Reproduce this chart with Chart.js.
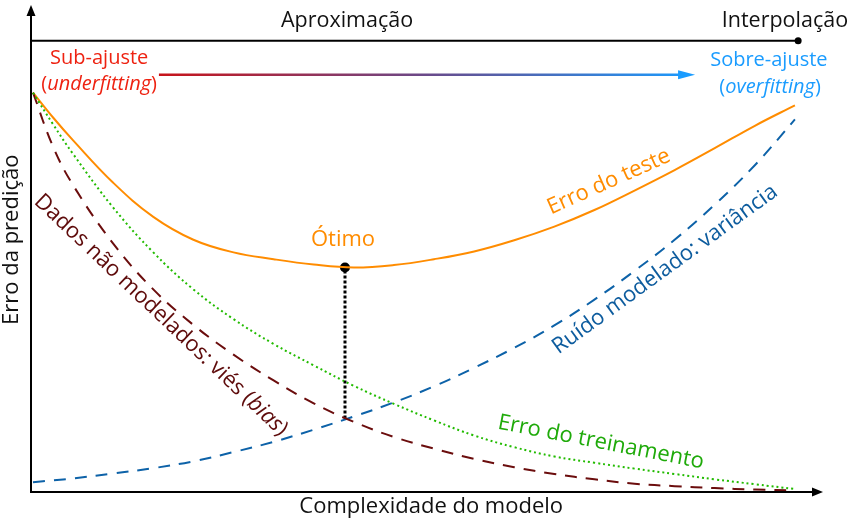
<!DOCTYPE html>
<html><head><meta charset="utf-8">
<script src="https://cdn.jsdelivr.net/npm/chart.js@4"></script>
<style>html,body{margin:0;padding:0;background:#fff}#wrap{width:850px;height:520px}</style>
</head><body><div id="wrap"><canvas id="c"></canvas></div>
<script>
// Model complexity (x) and prediction error (y), arbitrary units
const complexity    = [0,0.5,1,2,3,4,5,6,7,8,9,10,11,12,13,14,15,16,17,18,19];
const testError     = [82.0,76.9,72.2,63.5,56.5,51.8,49.2,47.8,46.7,46.1,46.6,47.8,49.4,51.7,54.5,57.9,61.9,66.1,70.6,75.2,79.4];
const trainingError = [82.0,75.5,69.4,58.4,49.2,41.6,35.5,30.4,26.0,21.8,18.1,14.7,11.6,9.2,7.3,6.0,4.8,3.7,2.6,1.6,0.6];
const biasError     = [82.0,70.9,63.0,51.0,41.6,34.3,28.2,22.9,18.2,14.4,11.3,8.9,6.8,5.1,3.7,2.6,1.7,1.2,0.8,0.5,0.3];
const varianceError = [2.0,2.4,2.8,3.8,4.9,6.3,8.2,10.3,12.8,15.5,18.4,21.7,25.5,29.6,34.2,39.5,45.4,51.8,59.0,67.1,76.5];
const optimumComplexity = 7.78;
const optimumError = 46.1;
const optimumCrossing = 15.1;

const FONT = '"Open Sans", "Noto Sans", sans-serif';
const toXY = ys => complexity.map((x, i) => ({x, y: ys[i]}));

function drawRuns(ctx, runs, cx, cy, angle, size, color) {
  ctx.save();
  ctx.translate(cx, cy);
  ctx.rotate(angle * Math.PI / 180);
  ctx.fillStyle = color;
  ctx.textBaseline = 'middle';
  ctx.textAlign = 'left';
  const fonts = runs.map(r => (r[1] ? 'italic ' : '') + size + 'px ' + FONT);
  let total = 0;
  const widths = runs.map((r, i) => { ctx.font = fonts[i]; const w = ctx.measureText(r[0]).width; total += w; return w; });
  let xx = -total / 2;
  runs.forEach((r, i) => { ctx.font = fonts[i]; ctx.fillText(r[0], xx, 0); xx += widths[i]; });
  ctx.restore();
}

const labels = [
  {runs:[['Aproximação',0]], x:7.83, y:96.7, a:0, s:21.5, c:'#111'},
  {runs:[['Interpolação',0]], x:18.75, y:96.7, a:0, s:21.5, c:'#111'},
  {runs:[['Sub-ajuste',0]], x:1.65, y:89.0, a:0, s:20, c:'#ee2211'},
  {runs:[['(',0],['underfitting',1],[')',0]], x:1.65, y:83.7, a:0, s:20, c:'#ee2211'},
  {runs:[['Sobre-ajuste',0]], x:18.35, y:88.6, a:0, s:20, c:'#1a9cff'},
  {runs:[['(',0],['overfitting',1],[')',0]], x:18.38, y:83.1, a:0, s:20, c:'#1a9cff'},
  {runs:[['Ótimo',0]], x:7.73, y:51.8, a:0, s:22, c:'#ff8c00'},
  {runs:[['Erro do teste',0]], x:14.36, y:63.7, a:-24, s:22, c:'#ff8c00'},
  {runs:[['Ruído modelado: variância',0]], x:15.76, y:45.7, a:-36, s:22, c:'#0d5c9e'},
  {runs:[['Dados não modelados: viés (',0],['bias',1],[')',0]], x:3.19, y:36.3, a:43.5, s:22, c:'#5e0b0b'},
  {runs:[['Erro do treinamento',0]], x:14.16, y:10.2, a:11, s:22, c:'#1faa0a'}
];

const decor = {
  id: 'decor',
  afterDraw(chart) {
    const {ctx, chartArea: a, scales: {x, y}} = chart;
    ctx.save();
    ctx.strokeStyle = '#000'; ctx.fillStyle = '#000'; ctx.lineWidth = 2;
    // y axis
    ctx.beginPath(); ctx.moveTo(a.left, a.bottom + 1); ctx.lineTo(a.left, a.top + 8); ctx.stroke();
    ctx.beginPath(); ctx.moveTo(a.left, a.top); ctx.lineTo(a.left - 4.5, a.top + 11); ctx.lineTo(a.left + 4.5, a.top + 11); ctx.closePath(); ctx.fill();
    // x axis
    ctx.beginPath(); ctx.moveTo(a.left - 1, a.bottom); ctx.lineTo(a.right - 8, a.bottom); ctx.stroke();
    ctx.beginPath(); ctx.moveTo(a.right, a.bottom); ctx.lineTo(a.right - 11, a.bottom - 4.5); ctx.lineTo(a.right - 11, a.bottom + 4.5); ctx.closePath(); ctx.fill();
    // top approximation–interpolation line
    const ty = y.getPixelForValue(92.65), tx = x.getPixelForValue(19.08);
    ctx.beginPath(); ctx.moveTo(a.left, ty); ctx.lineTo(tx, ty); ctx.stroke();
    ctx.beginPath(); ctx.arc(tx, ty, 3.5, 0, Math.PI * 2); ctx.fill();
    // gradient arrow
    const gy = y.getPixelForValue(85.7), gx0 = x.getPixelForValue(3.14), gx1 = x.getPixelForValue(16.51);
    const g = ctx.createLinearGradient(gx0, 0, gx1, 0);
    g.addColorStop(0, '#c8141a'); g.addColorStop(0.5, '#6a4a8a'); g.addColorStop(1, '#1a9cff');
    ctx.strokeStyle = g; ctx.lineWidth = 2.5;
    ctx.beginPath(); ctx.moveTo(gx0, gy); ctx.lineTo(gx1 - 14, gy); ctx.stroke();
    ctx.fillStyle = '#1a9cff';
    ctx.beginPath(); ctx.moveTo(gx1, gy); ctx.lineTo(gx1 - 17, gy - 4.5); ctx.lineTo(gx1 - 17, gy + 4.5); ctx.closePath(); ctx.fill();
    ctx.restore();
    // axis titles
    drawRuns(ctx, [['Erro da predição',0]], a.left - 19, y.getPixelForValue(51.8), -90, 22, '#111');
    drawRuns(ctx, [['Complexidade do modelo',0]], x.getPixelForValue(9.93), a.bottom + 15, 0, 22, '#111');
    labels.forEach(l => drawRuns(ctx, l.runs, x.getPixelForValue(l.x), y.getPixelForValue(l.y), l.a, l.s, l.c));
  }
};

const common = {pointRadius: 0, fill: false, tension: 0.4, clip: false};
new Chart(document.getElementById('c'), {
  type: 'line',
  data: {datasets: [
    {...common, label: 'Erro do treinamento', data: toXY(trainingError), borderColor: '#22bb00', borderWidth: 2, borderDash: [2, 3]},
    {...common, label: 'Viés', data: toXY(biasError), borderColor: '#6b0d0d', borderWidth: 2, borderDash: [12, 9]},
    {...common, label: 'Variância', data: toXY(varianceError), borderColor: '#0d62a8', borderWidth: 2, borderDash: [12, 9]},
    {...common, label: 'Erro do teste', data: toXY(testError), borderColor: '#ff8c00', borderWidth: 2},
    {...common, label: 'Ótimo (linha)', data: [{x: optimumComplexity, y: optimumCrossing}, {x: optimumComplexity, y: optimumError}], borderColor: '#000', borderWidth: 3, borderDash: [3, 2], tension: 0},
    {label: 'Ótimo', data: [{x: optimumComplexity, y: optimumError}], showLine: false, pointRadius: 5, pointBackgroundColor: '#000', pointBorderWidth: 0, clip: false}
  ]},
  options: {
    animation: false, responsive: true, maintainAspectRatio: false, devicePixelRatio: 1,
    layout: {padding: {left: 31, right: 27, top: 2, bottom: 28}},
    scales: {x: {type: 'linear', min: -0.05, max: 19.70, display: false}, y: {min: 0, max: 100, display: false}},
    plugins: {legend: {display: false}, tooltip: {enabled: false}}
  },
  plugins: [decor]
});
</script></body></html>
